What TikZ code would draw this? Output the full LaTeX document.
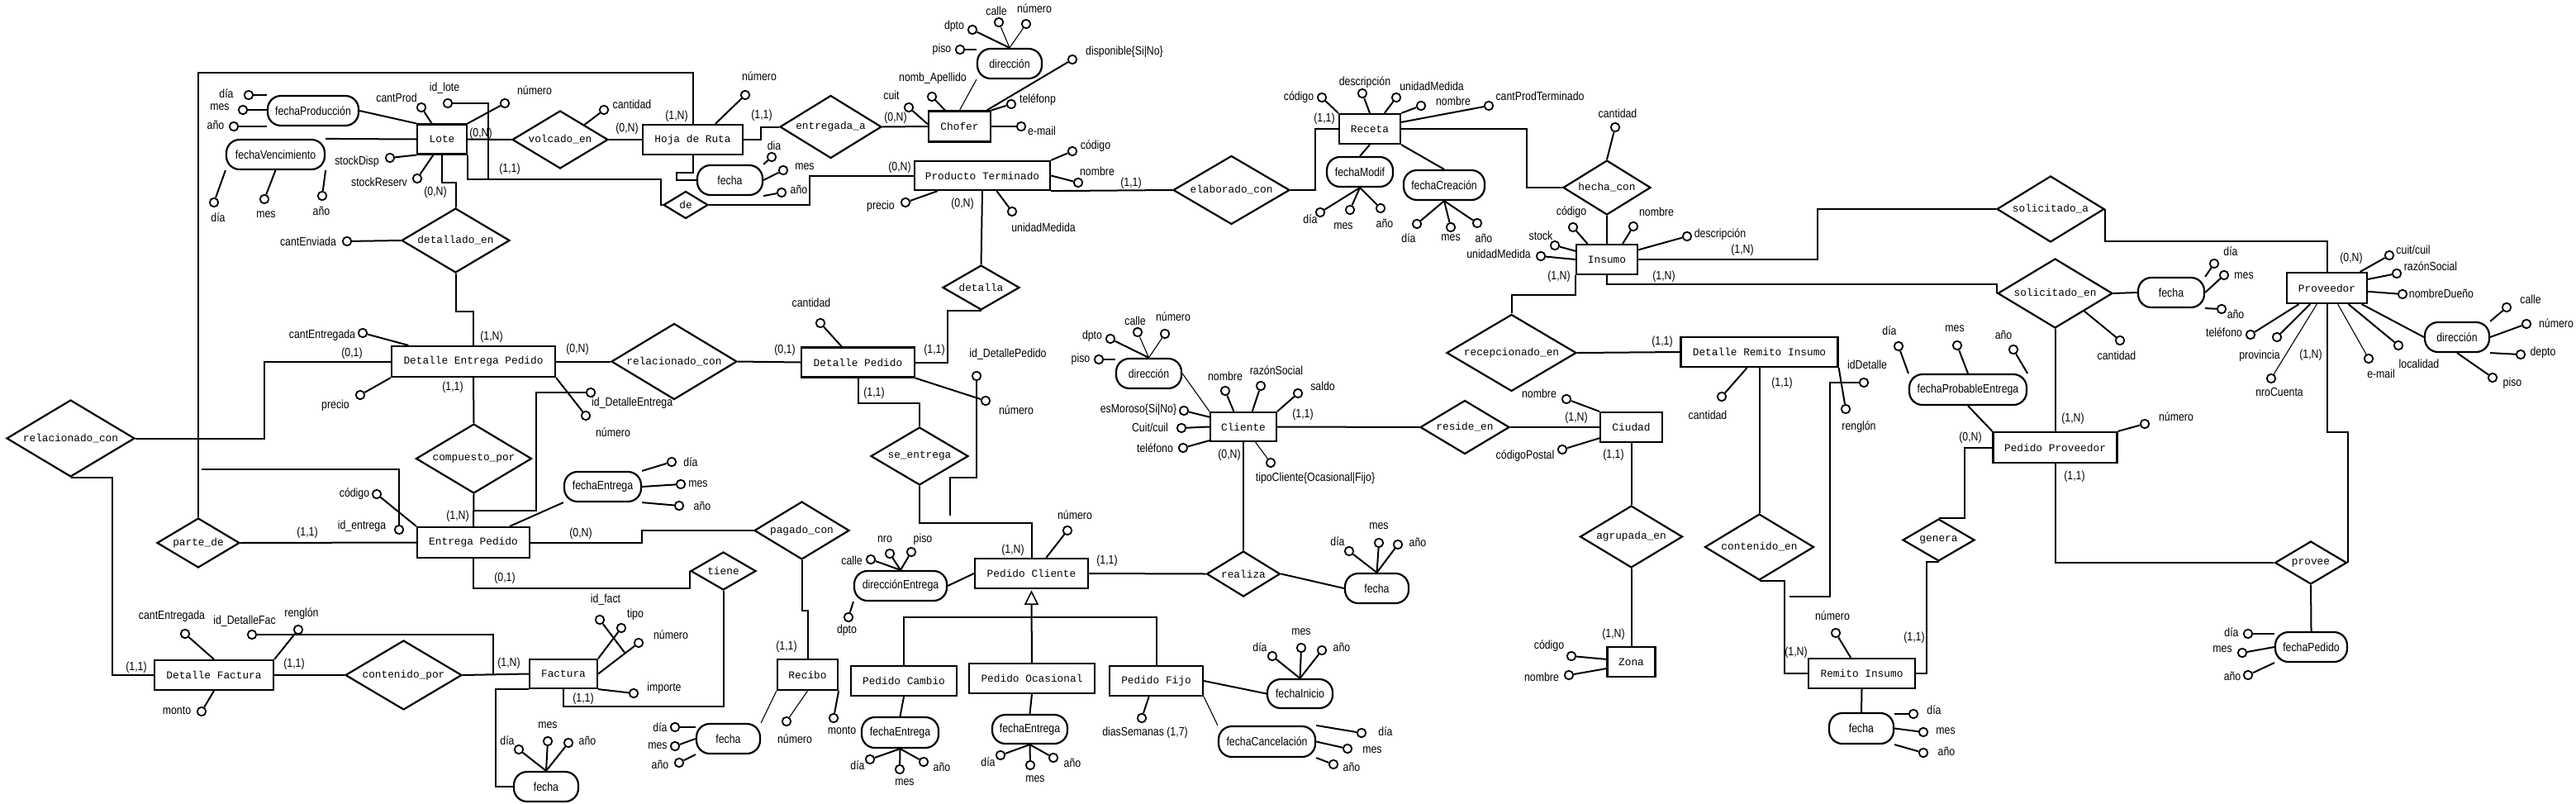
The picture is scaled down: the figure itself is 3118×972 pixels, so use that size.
\documentclass[tikz,border=0pt]{standalone}
\usepackage{fontspec}
\newfontfamily\labfam[FakeStretch=0.85]{Liberation Sans}
\newfontfamily\monofam{Liberation Mono}
\usetikzlibrary{shapes.geometric}
\newcommand\labf{\fontsize{14.5}{16}\selectfont\labfam}
\newcommand\monof{\fontsize{12.8}{14}\selectfont\monofam}
\tikzset{
 ln/.style={line width=2pt},
 thn/.style={line width=1.1pt},
 ent/.style={draw, line width=2.2pt, inner sep=0pt, font=\monof},
 rel/.style={draw, diamond, line width=2.2pt, inner sep=0pt, font=\monof},
 cmp/.style={draw, rounded corners=16pt, line width=2.2pt, inner sep=0pt, font=\labf},
 att/.style={draw, circle, line width=1.8pt, minimum size=10.5pt, inner sep=0pt},
 lbl/.style={font=\labf, inner sep=0pt},
}
\newcommand\Att[5]{\node[att] (#1) at (#2) {}; \node[lbl] (#1-l) at (#3) {#4}; \draw[ln] (#1) -- (#5);}
\newcommand\AttT[5]{\node[att] (#1) at (#2) {}; \node[lbl] (#1-l) at (#3) {#4}; \draw[thn] (#1) -- (#5);}
\newcommand\Card[3]{\node[lbl] (#1) at (#2) {#3};}
\begin{document}
\begin{tikzpicture}[x=1pt,y=-1pt]
\fill[white] (0,0) rectangle (3118,972);
\useasboundingbox (0,0) rectangle (3118,972);

% ---------- Lote ----------
\node[ent, minimum width=60pt, minimum height=36pt] (lote) at (535,168.5) {Lote};
\node[ent, minimum width=121pt, minimum height=36pt] (hoja) at (838.5,169) {Hoja de Ruta};
\node[rel, minimum width=116pt, minimum height=70pt, aspect=1.66] (volc) at (678,169) {volcado\_en};
\node[rel, minimum width=131pt, minimum height=78pt, aspect=1.68] (deten) at (551.5,291) {detallado\_en};
\node[cmp, minimum width=110pt, minimum height=36pt] (fprod) at (379,134) {fechaProducción};
\node[cmp, minimum width=119pt, minimum height=36pt] (fvenc) at (333.5,187) {fechaVencimiento};
\Att{lcp}{510,130}{480,118}{cantProd}{lote}
\node[att] (lid) at (542,125) {};
\node[lbl] (lid-l) at (538,107) {id\_lote};
\coordinate (lid-end) at (591,217);
\draw[ln] (lid.east) -| (lid-end);
\Att{lnum}{611,125}{647,109}{número}{lote.north east}
\Att{fpd}{301,115}{274,113}{día}{fpd -| fprod.west}
\Att{fpm}{294,133}{266,130}{mes}{fpm -| fprod.west}
\Att{fpa}{283,153}{261,151}{año}{fpa -| fprod.west}
\draw[ln] (fprod.east) -- (lote.north west);
\draw[ln] (fvenc.north east) -- (lote.west);
\Att{fvd}{259,245}{264,263}{día}{fvenc.south west}
\Att{fvm}{320,241}{322,260}{mes}{fvenc.south}
\Att{fva}{390,237}{389,255}{año}{fvenc.south east}
\Att{lsd}{472,191}{432,196}{stockDisp}{lote.south west}
\Att{lsr}{505,216}{459,220}{stockReserv}{lote.241}
\Card{c1}{582,162}{(0,N)}
\Card{c2}{617,205}{(1,1)}
\Card{c3}{527,233}{(0,N)}
\draw[ln] (lote.east) -- (volc.west);
\draw[ln] (volc.east) -- (hoja.west);
\Att{vcant}{731,133}{765,126}{cantidad}{volc.north east}
\Card{c4}{759,156}{(0,N)}
\draw[ln] (lote.south) -- ++(0,33) -| (deten.north);
\Att{dcant}{420,292}{373,292}{cantEnviada}{deten.west}

% ---------- Hoja de Ruta ----------
\Att{hnum}{902,115}{919,92}{número}{hoja.35}
\Card{c5}{819,141}{(1,N)}
\Card{c6}{922,140}{(1,1)}
\node[rel, minimum width=123pt, minimum height=76pt, aspect=1.62] (entr) at (1005.5,153.5) {entregada\_a};
\draw[ln] (hoja.east) -- ++(21,0) |- (entr.west);
\node[ent, minimum width=75pt, minimum height=37pt] (chofer) at (1161.5,153) {Chofer};
\draw[ln] (entr.east) -- (chofer.west);
\Card{c7}{1084,143}{(0,N)}
\node[cmp, minimum width=79pt, minimum height=36pt] (fhoja) at (883.5,218) {fecha};
\draw[ln] (hoja.south) -- ++(0,21) -- ++(-20,0) |- (fhoja.west);
\Att{fhd}{934,190}{937,176}{dia}{fhoja.north east}
\Att{fhm}{948,206}{974,202}{mes}{fhoja.east}
\Att{fha}{946,233}{967,229}{año}{fhoja.south east}
\node[rel, minimum width=54pt, minimum height=33pt, aspect=1.64] (de) at (830,248) {de};
\draw[ln] (lote.south east) |- (800,217) |- (de.west);
\node[ent, minimum width=164pt, minimum height=35pt] (pt) at (1189,212.5) {Producto Terminado};
\draw[ln] (de.east) -- (980,248) |- (pt.west);
\Card{c8}{1089,203}{(0,N)}

% ---------- Chofer ----------
\Att{chc}{1100,130}{1079,115}{cuit}{chofer.176}
\Att{chn}{1128,117}{1129,95}{nomb\_Apellido}{chofer.132}
\node[cmp, minimum width=78pt, minimum height=36pt] (dirch) at (1222,77) {dirección};
\draw[thn] (dirch.south west) -- (chofer.north);
\Att{dcp}{1162,60}{1140,60}{piso}{dcp -| dirch.west}
\Att{dcd}{1177,36}{1155,32}{dpto}{dirch.north}
\AttT{dcc}{1209,27}{1206,13}{calle}{dirch.north}
\AttT{dcn}{1242,29}{1252,10}{número}{dirch.north}
\Att{chd}{1298,72}{1361,63}{disponible\{Si|No\}}{chofer}
\Att{cht}{1224,126}{1256,121}{teléfonp}{chofer.north east}
\Att{che}{1236,153}{1261,158}{e-mail}{chofer.east}

% ---------- Producto Terminado ----------
\Att{ptc}{1298,183}{1326,177}{código}{pt.north east}
\Att{ptn}{1305,221}{1328,207}{nombre}{pt.east}
\Att{ptp}{1096,245}{1066,250}{precio}{pt.199}
\Att{ptu}{1225,256}{1263,275}{unidadMedida}{pt.313}
\Card{c9}{1165,247}{(0,N)}
\node[rel, minimum width=93pt, minimum height=54pt, aspect=1.72] (detalla) at (1187.5,348) {detalla};
\draw[ln] (pt.south) -- (detalla.north);
\node[rel, minimum width=141pt, minimum height=83pt, aspect=1.7] (elab) at (1490.5,230) {elaborado\_con};
\draw[ln] (pt.south east) -- (elab.west);
\Card{c10}{1369,222}{(1,1)}
\node[ent, minimum width=74pt, minimum height=36pt] (receta) at (1658,156) {Receta};
\draw[ln] (elab.east) -- ++(30,0) |- (receta.west);
\Card{c11}{1603,144}{(1,1)}

% ---------- Receta ----------
\Att{rc}{1600,118}{1572,118}{código}{receta.north west}
\Att{rd}{1649,113}{1652,100}{descripción}{receta.north}
\Att{ru}{1690,118}{1733,104}{unidadMedida}{receta.47}
\Att{rn}{1720,128}{1759,122}{nombre}{receta.north east}
\Att{rp}{1802,128}{1864,116}{cantProdTerminado}{receta.12}
\node[cmp, minimum width=80pt, minimum height=36pt] (fmod) at (1646,208) {fechaModif};
\draw[ln] (receta.south) -- (fmod.north);
\Att{fmd}{1598,257}{1586,265}{día}{fmod.south}
\Att{fmm}{1634,254}{1626,274}{mes}{fmod.south}
\Att{fma}{1671,252}{1676,270}{año}{fmod.south}
\node[cmp, minimum width=98pt, minimum height=36pt] (fcre) at (1748,224) {fechaCreación};
\draw[ln] (receta.south east) -- (fcre.north);
\Att{fcd}{1715,271}{1705,288}{día}{fcre.south}
\Att{fcm}{1756,275}{1756,288}{mes}{fcre.south}
\Att{fca}{1788,270}{1796,288}{año}{fcre.south}
\node[rel, minimum width=106pt, minimum height=66pt, aspect=1.6] (hecha) at (1945,227) {hecha\_con};
\draw[ln] (receta.east) -- ++(152,0) |- (hecha.west);
\Att{hc}{1955,154}{1958,137}{cantidad}{hecha.north}
\node[ent, minimum width=74pt, minimum height=36pt] (insumo) at (1945,314) {Insumo};
\draw[ln] (hecha.south) -- (insumo.north);

% ---------- Insumo ----------
\Att{ic}{1904,275}{1902,257}{código}{insumo.141}
\Att{in}{1977,274}{2005,256}{nombre}{insumo.45}
\Att{ide}{2042,286}{2082,284}{descripción}{insumo.17}
\Att{is}{1882,297}{1865,285}{stock}{insumo.165}
\Att{iu}{1865,310}{1814,307}{unidadMedida}{insumo.west}
\node[rel, minimum width=130pt, minimum height=80pt, aspect=1.62] (sola) at (2482,253) {solicitado\_a};
\draw[ln] (insumo.east) -- ++(217,0) |- (sola.west);
\Card{c12}{2109,303}{(1,N)}
\node[rel, minimum width=157pt, minimum height=93pt, aspect=1.69] (recep) at (1829.5,427) {recepcionado\_en};
\draw[ln] (insumo.south west) -- ++(0,24) -| (recep.north);
\Card{c13}{1887,335}{(1,N)}
\node[rel, minimum width=139pt, minimum height=84pt, aspect=1.65] (sole) at (2487.5,355) {solicitado\_en};
\draw[ln] (insumo.south) -- ++(0,11) -| (sole.west);
\Card{c14}{2014,335}{(1,N)}

% ---------- Proveedor ----------
\node[ent, minimum width=97pt, minimum height=37pt] (prov) at (2816.5,348.5) {Proveedor};
\draw[ln] (sola.east) -- ++(0,39) -| (prov.north);
\Card{c15}{2846,313}{(0,N)}
\Att{pvc}{2892,309}{2921,302}{cuit/cuil}{prov.26}
\Att{pvr}{2901,331}{2942,322}{razónSocial}{prov.12}
\Att{pvn}{2908,356}{2955,355}{nombreDueño}{prov.355}
\node[cmp, minimum width=78pt, minimum height=36pt] (dirpr) at (2974,408) {dirección};
\draw[ln] (prov.335) -- (dirpr.west);
\Att{prc}{3034,372}{3063,362}{calle}{dirpr.north east}
\Att{prn}{3058,392}{3094,391}{número}{dirpr.east}
\Att{prd}{3051,429}{3078,427}{depto}{dirpr.south east}
\Att{prp}{3017,457}{3041,464}{piso}{dirpr.south}
\Att{pvt}{2724,405}{2692,402}{teléfono}{prov.210}
\Att{pvp}{2756,408}{2735,431}{provincia}{prov.224}
\AttT{pvk}{2749,458}{2759,475}{nroCuenta}{prov.238}
\Card{c16}{2797,430}{(1,N)}
\AttT{pve}{2867,434}{2882,452}{e-mail}{prov.304}
\Att{pvl}{2903,418}{2928,440}{localidad}{prov.323}
\node[rel, minimum width=87pt, minimum height=52pt, aspect=1.67] (provee) at (2797,681) {provee};
\draw[ln] (prov.south) -- ++(0,155) -| (provee.east);
\node[cmp, minimum width=87pt, minimum height=36pt] (fped) at (2797.5,783) {fechaPedido};
\draw[ln] (provee.south) -- (fped.north);
\Att{fpdd}{2721,767}{2701,765}{día}{fpdd -| fped.west}
\Att{fpdm}{2714,790}{2690,786}{mes}{fped.west}
\Att{fpda}{2721,817}{2702,818}{año}{fped.south west}

% ---------- solicitado_en / Pedido Proveedor ----------
\node[cmp, minimum width=80pt, minimum height=36pt] (fsol) at (2628,354) {fecha};
\draw[ln] (sole.east) -- (fsol.west);
\Att{fsd}{2680,319}{2700,304}{día}{fsol.north east}
\Att{fsm}{2692,333}{2716,334}{mes}{fsol.east}
\Att{fsa}{2689,374}{2706,380}{año}{fsol.south east}
\Att{sec}{2566,412}{2562,430}{cantidad}{sole.south east}
\node[ent, minimum width=150pt, minimum height=37pt] (pp) at (2487.5,541.5) {Pedido Proveedor};
\draw[ln] (sole.south) -- (pp.north);
\Card{c17}{2509,507}{(1,N)}
\Att{ppn}{2596,513}{2634,504}{número}{pp.north east}
\node[cmp, minimum width=142pt, minimum height=37pt] (fprob) at (2382,471.5) {fechaProbableEntrega};
\draw[ln] (fprob.south) -- (pp.north west);
\Att{fbd}{2298,419}{2287,400}{día}{fprob.north west}
\Att{fbm}{2369,418}{2366,398}{mes}{fprob.north}
\Att{fba}{2437,423}{2425,405}{año}{fprob.north east}
\node[rel, minimum width=87pt, minimum height=51pt, aspect=1.7] (genera) at (2346.5,653.5) {genera};
\draw[ln] (pp.west) -- ++(-33,0) |- (genera.north);
\Card{c18}{2385,530}{(0,N)}
\draw[ln] (pp.south) |- (provee.west);
\Card{c19}{2511,577}{(1,1)}
\node[ent, minimum width=129pt, minimum height=36pt] (ri) at (2253.5,815) {Remito Insumo};
\draw[ln] (genera.south) -- ++(-15,0) |- (ri.east);
\Card{c20}{2317,772}{(1,1)}

% ---------- Detalle Remito Insumo ----------
\node[ent, minimum width=190pt, minimum height=36pt] (dri) at (2129.5,426) {Detalle Remito Insumo};
\draw[ln] (recep.east) -- (dri.west);
\Card{c21}{2012,414}{(1,1)}
\Att{drc}{2084,480}{2067,502}{cantidad}{dri.232}
\node[att] (drid) at (2256,463) {};
\node[lbl] (drid-l) at (2260,441) {idDetalle};
\coordinate (drid-end) at (2166,722);
\draw[ln] (drid.west) -- (2215,463) |- (drid-end);
\Att{drr}{2234,495}{2250,517}{renglón}{dri.south east}
\node[rel, minimum width=132pt, minimum height=80pt, aspect=1.65] (conten) at (2129.5,662) {contenido\_en};
\draw[ln] (dri.south) -- (conten.north);
\Card{c22}{2157,464}{(1,1)}
\draw[ln] (conten.south) -- ++(30,0) |- (ri.west);
\Card{c23}{2174,790}{(1,N)}
\Att{rin}{2222,766}{2218,745}{número}{ri.125}
\node[cmp, minimum width=78pt, minimum height=37pt] (fri) at (2253,881.5) {fecha};
\draw[ln] (ri.south) -- (fri.north);
\Att{frd}{2316,864}{2341,859}{día}{frd -| fri.east}
\Att{frm}{2328,886}{2355,885}{mes}{fri.east}
\Att{fra}{2328,911}{2356,909}{año}{fri.south east}

% ---------- Ciudad / Zona ----------
\node[ent, minimum width=75pt, minimum height=36pt] (ciudad) at (1974.5,517) {Ciudad};
\node[rel, minimum width=108pt, minimum height=65pt, aspect=1.66] (reside) at (1773,517) {reside\_en};
\draw[ln] (reside.east) -- (ciudad.west);
\Card{c24}{1908,506}{(1,N)}
\Att{cin}{1896,483}{1863,476}{nombre}{ciudad.north west}
\Att{cic}{1891,544}{1846,552}{códigoPostal}{ciudad.199}
\node[rel, minimum width=124pt, minimum height=75pt, aspect=1.65] (agrup) at (1974.5,649.5) {agrupada\_en};
\draw[ln] (ciudad.south) -- (agrup.north);
\Card{c25}{1953,551}{(1,1)}
\node[ent, minimum width=58pt, minimum height=36pt] (zona) at (1974.5,801) {Zona};
\draw[ln] (agrup.south) -- (zona.north);
\Card{c26}{1953,768}{(1,N)}
\Att{zc}{1902,794}{1875,782}{código}{zona.174}
\Att{zn}{1899,817}{1866,819}{nombre}{zona.195}

% ---------- Cliente ----------
\node[ent, minimum width=80pt, minimum height=35pt] (cliente) at (1505,516.5) {Cliente};
\draw[ln] (cliente.east) -- (reside.west);
\Card{c27}{1577,502}{(1,1)}
\node[cmp, minimum width=79pt, minimum height=36pt] (dircl) at (1390.5,452) {dirección};
\draw[thn] (dircl.east) -- (cliente.north west);
\Att{dlp}{1330,435}{1308,435}{piso}{dlp -| dircl.west}
\Att{dld}{1344,410}{1322,407}{dpto}{dircl.north}
\AttT{dlc}{1377,402}{1374,388}{calle}{dircl.north}
\AttT{dln}{1410,404}{1420,383}{número}{dircl.north}
\Att{cln}{1483,473}{1483,455}{nombre}{cliente.122}
\Att{clr}{1526,467}{1545,448}{razónSocial}{cliente.60}
\Att{cls}{1571,476}{1601,467}{saldo}{cliente.north east}
\Att{clm}{1433,497}{1378,496}{esMoroso\{Si|No\}}{cliente.164}
\Att{clc}{1430,518}{1392,517}{Cuit/cuil}{cliente.west}
\Att{clt}{1432,542}{1398,542}{teléfono}{cliente.202}
\AttT{cltc}{1538,560}{1592,579}{tipoCliente\{Ocasional|Fijo\}}{cliente.308}
\node[rel, minimum width=89pt, minimum height=55pt, aspect=1.62] (realiza) at (1505,694.5) {realiza};
\draw[ln] (realiza.north) -- (cliente.south);
\Card{c28}{1488,551}{(0,N)}
\node[ent, minimum width=137pt, minimum height=36pt] (pc) at (1248.5,694) {Pedido Cliente};
\draw[ln] (pc.east) -- (realiza.west);
\Card{c29}{1340,679}{(1,1)}
\node[cmp, minimum width=77pt, minimum height=36pt] (fcli) at (1666.5,712) {fecha};
\draw[ln] (realiza.east) -- (fcli.west);
\Att{fld}{1633,667}{1619,655}{día}{fcli.north}
\Att{flm}{1669,657}{1669,637}{mes}{fcli.north}
\Att{fla}{1692,659}{1716,656}{año}{fcli.north}

% ---------- Pedido Cliente ----------
\Att{pcn}{1292,642}{1301,623}{número}{pc.47}
\Card{c30}{1226,666}{(1,N)}
\node[cmp, minimum width=112pt, minimum height=36pt] (dirent) at (1090,709) {direcciónEntrega};
\draw[ln] (dirent.east) -- (pc.west);
\Att{ec1}{1054,677}{1031,678}{calle}{dirent.north}
\Att{ec2}{1077,670}{1071,653}{nro}{dirent.north}
\Att{ec3}{1103,668}{1117,653}{piso}{dirent.north}
\Att{ec4}{1027,747}{1025,763}{dpto}{dirent.south west}
\node[ent, minimum width=128pt, minimum height=36pt] (pcam) at (1094,824) {Pedido Cambio};
\node[ent, minimum width=152pt, minimum height=36pt] (poc) at (1249,821) {Pedido Ocasional};
\node[ent, minimum width=113pt, minimum height=36pt] (pfij) at (1399.5,824) {Pedido Fijo};
\draw[line width=1.6pt] ([yshift=-3pt]pc.south) -- ++(-7.5,15) -- ++(15,0) -- cycle;
\draw[ln] ([yshift=-18pt]pc.south) -- (poc.north);
\draw[ln] (pcam.north) -- ++(0,-58) -| (pfij.north);
\node[cmp, minimum width=93pt, minimum height=37pt] (fpcam) at (1089.5,886.5) {fechaEntrega};
\draw[ln] (pcam.south) -- (fpcam.north);
\Att{f1d}{1053,919}{1038,926}{día}{fpcam.south}
\Att{f1m}{1089,931}{1095,947}{mes}{fpcam.south}
\Att{f1a}{1118,922}{1140,928}{año}{fpcam.south}
\node[cmp, minimum width=91pt, minimum height=35pt] (fpoc) at (1246.5,882.5) {fechaEntrega};
\draw[ln] (poc.south) -- (fpoc.north);
\Att{f2d}{1211,914}{1196,922}{día}{fpoc.south}
\Att{f2m}{1247,926}{1253,943}{mes}{fpoc.south}
\Att{f2a}{1275,917}{1298,923}{año}{fpoc.south}
\Att{pfd}{1382,869}{1386,887}{diasSemanas (1,7)}{pfij.245}
\node[cmp, minimum width=79pt, minimum height=35pt] (fini) at (1573.5,839.5) {fechaInicio};
\draw[ln] (pfij.east) -- (fini.west);
\Att{fid}{1540,794}{1525,783}{día}{fini.north}
\Att{fim}{1575,784}{1575,765}{mes}{fini.north}
\Att{fia}{1600,787}{1624,783}{año}{fini.north}
\node[cmp, minimum width=117pt, minimum height=37pt] (fcan) at (1533.5,897.5) {fechaCancelación};
\draw[thn] (pfij.south east) -- (fcan.north west);
\Att{fkd}{1648,887}{1677,885}{día}{fcan.north east}
\Att{fkm}{1631,906}{1661,908}{mes}{fcan.east}
\Att{fka}{1614,925}{1636,928}{año}{fcan.south east}

% ---------- Detalle Entrega Pedido / Detalle Pedido ----------
\node[ent, minimum width=198pt, minimum height=37pt] (dep) at (573,437.5) {Detalle Entrega Pedido};
\draw[ln] (deten.south) -- ++(0,46) -| (dep.north);
\Card{c31}{595,408}{(1,N)}
\node[rel, minimum width=152pt, minimum height=92pt, aspect=1.65] (relm) at (816,437.5) {relacionado\_con};
\draw[ln] (dep.east) -- (relm.west);
\Card{c32}{699,423}{(0,N)}
\node[ent, minimum width=137pt, minimum height=36pt] (dp) at (1038.5,438.5) {Detalle Pedido};
\draw[ln] (relm.east) -- (dp.west);
\Card{c33}{950,424}{(0,1)}
\Att{dpq}{993,391}{982,366}{cantidad}{dp.136}
\draw[ln] (dp.east) -- ++(39,0) |- (detalla.south);
\Card{c34}{1131,424}{(1,1)}
\node[att] (dpid) at (1182,455) {};
\node[lbl] (dpid-l) at (1220,429) {id\_DetallePedido};
\coordinate (dpid-end) at (1150,624);
\draw[ln] (dpid.south) -- (1182,578) -| (dpid-end);
\Att{dpn}{1193,485}{1230,496}{número}{dp.south east}
\node[rel, minimum width=118pt, minimum height=70pt, aspect=1.69] (see) at (1113,552) {se\_entrega};
\draw[ln] (dp.south) -- ++(0,30) -| (see.north);
\Card{c35}{1058,476}{(1,1)}
\draw[ln] (see.south) -- ++(0,45) -| (pc.north);
\Att{dea}{439,403}{390,406}{cantEntregada}{dep.166}
\Att{deb}{436,478}{406,491}{precio}{dep.south west}
\node[att] (deid) at (715,475) {};
\node[lbl, anchor=west] (deid-l) at (716,488) {id\_DetalleEntrega};
\coordinate (deid-end) at (574,618);
\draw[ln] (deid.west) -- (649,475) |- (deid-end);
\Att{dec}{709,503}{742,523}{número}{dep.south east}
\node[rel, minimum width=140pt, minimum height=84pt, aspect=1.67] (comp) at (573.5,555) {compuesto\_por};
\draw[ln] (dep.south) -- (comp.north);
\Card{c36}{548,469}{(1,1)}
\node[ent, minimum width=136pt, minimum height=37pt] (ep) at (573,656.5) {Entrega Pedido};
\draw[ln] (comp.south) -- (ep.north);
\Card{c37}{554,625}{(1,N)}
\node[rel, minimum width=155pt, minimum height=93pt, aspect=1.67] (rell) at (85.5,530.5) {relacionado\_con};
\draw[ln] (rell.east) -- ++(156,0) |- (dep.west);
\Card{c38}{426,428}{(0,1)}

% ---------- Entrega Pedido ----------
\node[rel, minimum width=100pt, minimum height=60pt, aspect=1.67] (parte) at (240,657) {parte\_de};
\draw[ln] (parte.east) -- (ep.west);
\Card{c39}{372,645}{(1,1)}
\draw[ln] (parte.north) -- (240,88) -| (hoja.north);
\Att{epc}{456,598}{429,598}{código}{ep.north west}
\node[att] (epid) at (483,641) {};
\node[lbl] (epid-l) at (438,637) {id\_entrega};
\coordinate (epid-end) at (244,568);
\draw[ln] (epid.north) |- (epid-end);
\node[cmp, minimum width=93pt, minimum height=36pt] (fent) at (729.5,589) {fechaEntrega};
\draw[ln] (fent.south west) -- (ep.24);
\Att{fed}{813,559}{836,559}{día}{fent.north east}
\Att{fem}{824,586}{845,586}{mes}{fent.east}
\Att{fea}{822,612}{850,612}{año}{fent.south east}
\node[rel, minimum width=115pt, minimum height=70pt, aspect=1.64] (pagado) at (970.5,642) {pagado\_con};
\draw[ln] (ep.east) -- ++(135,0) |- (pagado.west);
\Card{c40}{703,646}{(0,N)}
\node[rel, minimum width=79pt, minimum height=46pt, aspect=1.72] (tiene) at (875.5,691) {tiene};
\draw[ln] (ep.south) -- ++(0,36) -| (tiene.west);
\Card{c41}{611,700}{(0,1)}
\node[ent, minimum width=73pt, minimum height=37pt] (recibo) at (977.5,816.5) {Recibo};
\draw[ln] (pagado.south) -- ++(0,61) -| (recibo.north);
\Card{c42}{952,783}{(1,1)}
\AttT{rcn}{952,873}{962,894}{número}{recibo.south}
\Att{rcm}{1009,869}{1019,884}{monto}{recibo.south east}
\node[cmp, minimum width=77pt, minimum height=36pt] (frec) at (881.5,894) {fecha};
\draw[thn] (recibo.south west) -- (frec.north east);
\Att{rfd}{817,880}{799,880}{día}{rfd -| frec.west}
\Att{rfm}{817,903}{796,903}{mes}{frec.west}
\Att{rfa}{822,923}{799,925}{año}{frec.south west}

% ---------- Factura ----------
\node[ent, minimum width=82pt, minimum height=35pt] (fact) at (682,815.5) {Factura};
\draw[ln] (tiene.south) -- ++(0,140) -| (fact.south);
\Card{c43}{706,846}{(1,1)}
\node[rel, minimum width=141pt, minimum height=84pt, aspect=1.68] (contpor) at (488.5,817) {contenido\_por};
\draw[ln] (contpor.east) -- (fact.west);
\Card{c44}{616,803}{(1,N)}
\node[ent, minimum width=144pt, minimum height=36pt] (df) at (259,817) {Detalle Factura};
\draw[ln] (df.east) -- (contpor.west);
\Card{c45}{356,804}{(1,1)}
\draw[ln] (rell.south) -- ++(50,0) |- (df.west);
\Card{c46}{165,808}{(1,1)}
\node[att] (fid) at (726,750) {};
\node[lbl] (fid-l) at (733,726) {id\_fact};
\coordinate (fid-end) at (757,791);
\draw[ln] (fid) -- (fid-end);
\Att{ftp}{752,760}{769,744}{tipo}{fact.north east}
\Att{ftn}{773,778}{812,768}{número}{fact.east}
\Att{fti}{767,839}{804,833}{importe}{fact.south east}
\node[cmp, minimum width=78pt, minimum height=36pt] (ffac) at (661,952) {fecha};
\draw[ln] (fact.south west) -- ++(-40,0) |- (ffac.west);
\Att{ffd}{628,907}{614,896}{día}{ffac.north}
\Att{ffm}{663,897}{663,878}{mes}{ffac.north}
\Att{ffa}{688,899}{711,896}{año}{ffac.north}

% ---------- Detalle Factura ----------
\Att{dfc}{224,767}{208,746}{cantEntregada}{df.north}
\node[att] (dfid) at (305,768) {};
\node[lbl] (dfid-l) at (296,752) {id\_DetalleFac};
\coordinate (dfid-end) at (597,817);
\draw[ln] (dfid.east) -| (dfid-end);
\Att{dfr}{361,762}{365,743}{renglón}{df.north east}
\Att{dfm}{244,861}{214,860}{monto}{df.south}
\end{tikzpicture}
\end{document}
